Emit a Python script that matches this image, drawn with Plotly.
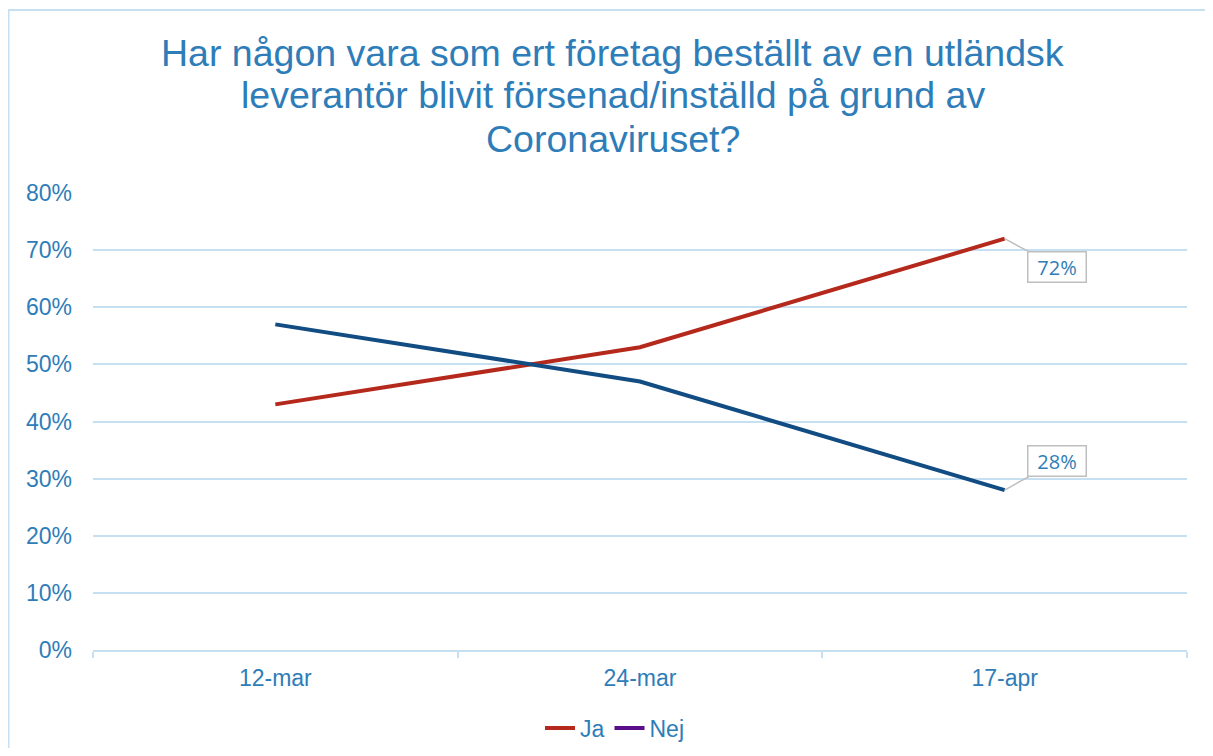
import plotly.graph_objects as go

categories = ["12-mar", "24-mar", "17-apr"]
ja_values = [0.43, 0.53, 0.72]
nej_values = [0.57, 0.47, 0.28]
y_ticks = [0, 0.1, 0.2, 0.3, 0.4, 0.5, 0.6, 0.7, 0.8]

title_lines = ["Har någon vara som ert företag beställt av en utländsk",
               "leverantör blivit försenad/inställd på grund av",
               "Coronaviruset?"]

TEXT = "#2E7DB8"
GRID = "#C6E0F2"
RED = "#B5281C"
BLUE = "#114C82"
PURPLE = "#5A0E8C"
FONT = "Liberation Sans, Arial, sans-serif"

W, H = 1197, 740
L, T, B, R = 85, 185, 98, 18
PW = W - L - R
PH = H - T - B

fig = go.Figure()
fig.add_trace(go.Scatter(x=categories, y=ja_values, mode="lines", name="Ja",
                         line=dict(color=RED, width=4), showlegend=False))
fig.add_trace(go.Scatter(x=categories, y=nej_values, mode="lines", name="Nej",
                         line=dict(color=BLUE, width=4), showlegend=False))
# legend entries (as in the original, Nej shown in purple)
fig.add_trace(go.Scatter(x=[None], y=[None], mode="lines", name="Ja",
                         line=dict(color=RED, width=4)))
fig.add_trace(go.Scatter(x=[None], y=[None], mode="lines", name="Nej",
                         line=dict(color=PURPLE, width=4)))

for vals, ay in [(ja_values, 28), (nej_values, -29)]:
    fig.add_annotation(x=categories[-1], y=vals[-1], text=f"{round(vals[-1]*100)}%",
                       showarrow=True, arrowhead=0, arrowwidth=1.5, arrowcolor="#BFBFBF",
                       ax=52, ay=ay, bordercolor="#BFBFBF", borderwidth=1.5,
                       bgcolor="white", borderpad=0, width=57, height=29,
                       font=dict(family="Open Sans, sans-serif", size=20, color=TEXT))

# title lines (tight line spacing like the original)
for line, yc in zip(title_lines, [44.5, 87.5, 130.5]):
    fig.add_annotation(text=line, xref="paper", yref="paper",
                       x=(604.5 - L) / PW, y=(H - B - yc) / PH,
                       xanchor="center", yanchor="middle", showarrow=False,
                       font=dict(family=FONT, size=37.5, color=TEXT))

# chart-area frame (only left and top edges visible in the original)
x0 = (0.5 - L) / PW
x1 = (W + 20 - L) / PW
y0 = (H - B - (H + 20)) / PH
y1 = (H - B - 2) / PH
fig.add_shape(type="path", xref="paper", yref="paper",
              path=f"M {x0},{y0} L {x0},{y1} L {x1},{y1}",
              line=dict(color=GRID, width=2), layer="below")

fig.update_layout(
    width=W, height=H,
    margin=dict(l=L, r=R, t=T, b=B, autoexpand=False),
    paper_bgcolor="white", plot_bgcolor="white",
    font=dict(family=FONT, color=TEXT, size=23),
    legend=dict(orientation="h", x=(607 - L) / PW, xanchor="center",
                y=(H - B - 720) / PH, yanchor="middle",
                font=dict(family=FONT, size=23, color=TEXT)),
    xaxis=dict(range=[-0.5, 2.5], tickson="boundaries", ticks="outside", ticklen=6,
               tickcolor=GRID, tickwidth=2, showline=True, linecolor=GRID, linewidth=2,
               showgrid=False, ticklabelstandoff=6, automargin=False,
               tickfont=dict(size=23, color=TEXT)),
    yaxis=dict(range=[0, 0.8], tickvals=y_ticks, tickformat=".0%", showgrid=True,
               gridcolor=GRID, gridwidth=1.5, zeroline=False, showline=False,
               ticks="", ticklabelstandoff=20, automargin=False,
               tickfont=dict(size=23, color=TEXT)),
)

fig.write_html("out.html")
